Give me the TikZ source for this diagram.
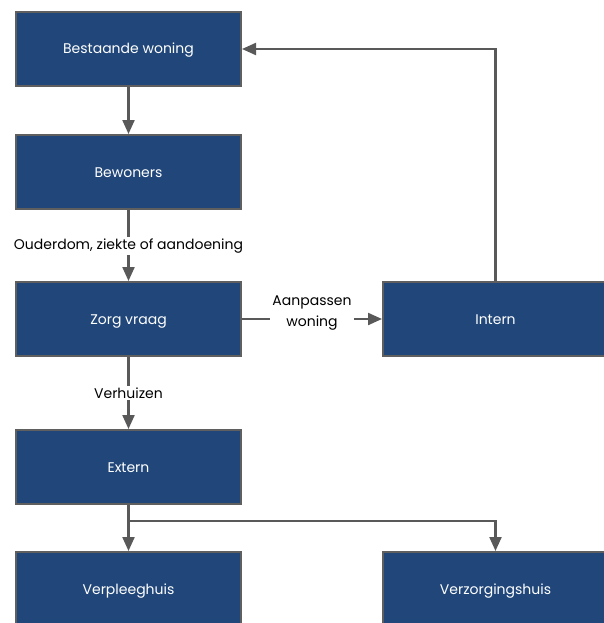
\documentclass[tikz,border=0pt]{standalone}
\usepackage{fontspec}
\setmainfont{Poppins}
\usetikzlibrary{arrows.meta}
\definecolor{boxfill}{HTML}{21477A}
\definecolor{boxline}{HTML}{5F5F5F}
\definecolor{linkgray}{HTML}{595959}
\begin{document}
\begin{tikzpicture}[x=1pt,y=-1pt,
  flowbox/.style={draw=boxline,line width=2pt,fill=boxfill,text=white,
    minimum width=225pt,minimum height=74pt,inner sep=0pt,
    text height=10pt,text depth=0pt,font=\fontsize{14}{16}\selectfont},
  link/.style={draw=linkgray,line width=2.2pt,-{Triangle[length=14pt,width=12pt]}},
  linklabel/.style={fill=white,inner sep=2pt,font=\fontsize{14}{21}\selectfont,align=center}]
  \useasboundingbox (0,0) rectangle (604,623);
  \clip (0,0) rectangle (604,623);
  % boxes of the left column
  \node[flowbox] (bestaand) at (128.5,49) {Bestaande woning};
  \node[flowbox] (bewoners) at (128.5,172) {Bewoners};
  \node[flowbox] (zorg) at (128.5,319) {Zorg vraag};
  \node[flowbox] (extern) at (128.5,467) {Extern};
  \node[flowbox] (verpleeg) at (128.5,589) {Verpleeghuis};
  % boxes of the right column
  \node[flowbox] (intern) at (495.5,319) {Intern};
  \node[flowbox] (verzorg) at (495.5,589) {Verzorgingshuis};
  % connectors
  \draw[link] (bestaand) -- (bewoners);
  \draw[link] (bewoners) -- node[linklabel,pos=0.48,yshift=-2pt] {Ouderdom, ziekte of aandoening} (zorg);
  \draw[link] (zorg) -- node[linklabel,pos=0.5,yshift=6pt] {Aanpassen\\woning} (intern);
  \draw[link] (zorg) -- node[linklabel,pos=0.5] {Verhuizen} (extern);
  \draw[link] (intern.north) |- (bestaand.east);
  \coordinate (split) at (128.5,521);
  \draw[link] (extern.south) -- (verpleeg.north);
  \draw[link] (split) -| (verzorg.north);
\end{tikzpicture}
\end{document}
